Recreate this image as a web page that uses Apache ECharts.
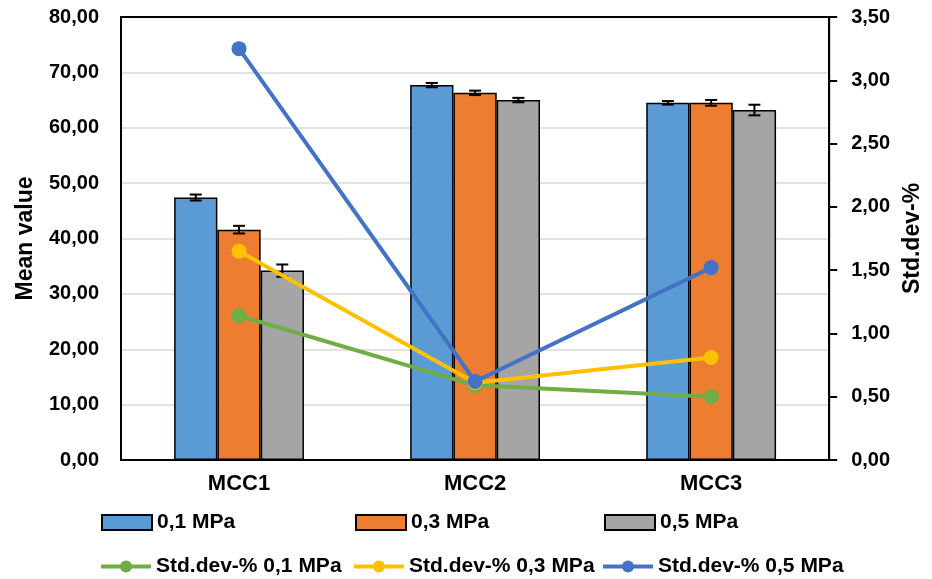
<!DOCTYPE html>
<html><head><meta charset="utf-8">
<script src="https://cdn.jsdelivr.net/npm/echarts@6/dist/echarts.min.js"></script>
<style>html,body{margin:0;padding:0;background:#fff}#c{width:932px;height:579px}</style>
</head><body><div id="c"></div>
<script>
const categories = ['MCC1', 'MCC2', 'MCC3'];
const barNames = ['0,1 MPa', '0,3 MPa', '0,5 MPa'];
const mean01 = [47.4, 67.7, 64.5];
const mean03 = [41.6, 66.3, 64.5];
const mean05 = [34.2, 65.0, 63.2];
const err01 = [0.54, 0.39, 0.32];
const err03 = [0.69, 0.40, 0.52];
const err05 = [1.11, 0.40, 0.96];
const lineNames = ['Std.dev-% 0,1 MPa', 'Std.dev-% 0,3 MPa', 'Std.dev-% 0,5 MPa'];
const std01 = [1.14, 0.59, 0.50];
const std03 = [1.65, 0.61, 0.81];
const std05 = [3.25, 0.62, 1.52];

const FONT = 'Liberation Sans';
const barColors = ['#5B9BD5', '#ED7D31', '#A5A5A5'];
const lineColors = ['#70AD47', '#FFC000', '#4472C4'];
const means = [mean01, mean03, mean05];
const errs = [err01, err03, err05];
const stds = [std01, std03, std05];
const GAP = 0.45;

const series = [];
means.forEach((m, i) => {
  series.push({
    name: barNames[i], type: 'bar', data: m, barGap: 0, barCategoryGap: (GAP * 100) + '%',
    itemStyle: { color: barColors[i], borderColor: '#000', borderWidth: 1.5 }, z: 2
  });
});
means.forEach((m, i) => {
  series.push({
    type: 'custom', z: 3, silent: true,
    data: m.map((v, k) => [k, v, errs[i][k]]),
    renderItem: function (params, api) {
      const band = api.size([1, 0])[0];
      const bw = band * (1 - GAP) / 3;
      const off = (i - 1) * bw;
      const c = api.value(0), v = api.value(1), e = api.value(2);
      const hi = api.coord([c, v + e]);
      const lo = api.coord([c, v - e]);
      const x = hi[0] + off;
      const cap = 6;
      const st = { stroke: '#000', lineWidth: 2 };
      return { type: 'group', children: [
        { type: 'line', shape: { x1: x, y1: hi[1], x2: x, y2: lo[1] }, style: st },
        { type: 'line', shape: { x1: x - cap, y1: hi[1], x2: x + cap, y2: hi[1] }, style: st },
        { type: 'line', shape: { x1: x - cap, y1: lo[1], x2: x + cap, y2: lo[1] }, style: st }
      ]};
    }
  });
});
stds.forEach((s, i) => {
  series.push({
    name: lineNames[i], type: 'line', yAxisIndex: 1, data: s, z: 5,
    symbol: 'circle', symbolSize: 15,
    lineStyle: { color: lineColors[i], width: 4 },
    itemStyle: { color: lineColors[i] }
  });
});

const fmt = (d) => (v) => v.toFixed(d).replace('.', ',');
const lbl = { fontFamily: FONT, fontWeight: 'bold', fontSize: 20, color: '#000' };
const legPos = [[96, 507], [350, 507], [599, 507], [94, 551], [347, 551], [596, 551]];
const allNames = barNames.concat(lineNames);
const legends = allNames.map((n, k) => ({
  data: [n], left: legPos[k][0], top: legPos[k][1], itemWidth: 50, itemHeight: 15, itemGap: 6,
  icon: k < 3 ? 'rect' : undefined,
  lineStyle: { width: 4 },
  textStyle: { fontFamily: FONT, fontWeight: 'bold', fontSize: 21, color: '#000' }
}));

const option = {
  animation: false,
  grid: { left: 121, right: 100, top: 17, bottom: 119, show: true, borderColor: '#000', borderWidth: 2, containLabel: false, z: 10 },
  legend: legends,
  xAxis: {
    type: 'category', data: categories,
    axisLine: { lineStyle: { color: '#000', width: 2 } },
    axisTick: { show: false },
    axisLabel: { fontFamily: FONT, fontWeight: 'bold', fontSize: 22, color: '#000', margin: 13 }
  },
  yAxis: [{
    type: 'value', min: 0, max: 80, interval: 10,
    name: 'Mean value', nameLocation: 'middle', nameRotate: 90, nameGap: 84,
    nameTextStyle: { fontFamily: FONT, fontWeight: 'bold', fontSize: 23, color: '#000' },
    axisLine: { show: false }, axisTick: { show: false },
    axisLabel: Object.assign({ formatter: fmt(2), margin: 22 }, lbl),
    splitLine: { showMaxLine: false, showMinLine: false, lineStyle: { color: '#d9d9d9', width: 1.5 } }
  }, {
    type: 'value', min: 0, max: 3.5, interval: 0.5, position: 'right',
    name: 'Std.dev-%', nameLocation: 'middle', nameRotate: 90, nameGap: 70,
    nameTextStyle: { fontFamily: FONT, fontWeight: 'bold', fontSize: 23, color: '#000' },
    axisLine: { show: true, lineStyle: { color: '#000', width: 2 } },
    axisTick: { show: true, length: 8, lineStyle: { color: '#000', width: 2 } },
    axisLabel: Object.assign({ formatter: fmt(2), margin: 22 }, lbl),
    splitLine: { show: false }
  }],
  series: series
};
const chart = echarts.init(document.getElementById('c'), null, { renderer: 'canvas' });
chart.setOption(option);
</script></body></html>
